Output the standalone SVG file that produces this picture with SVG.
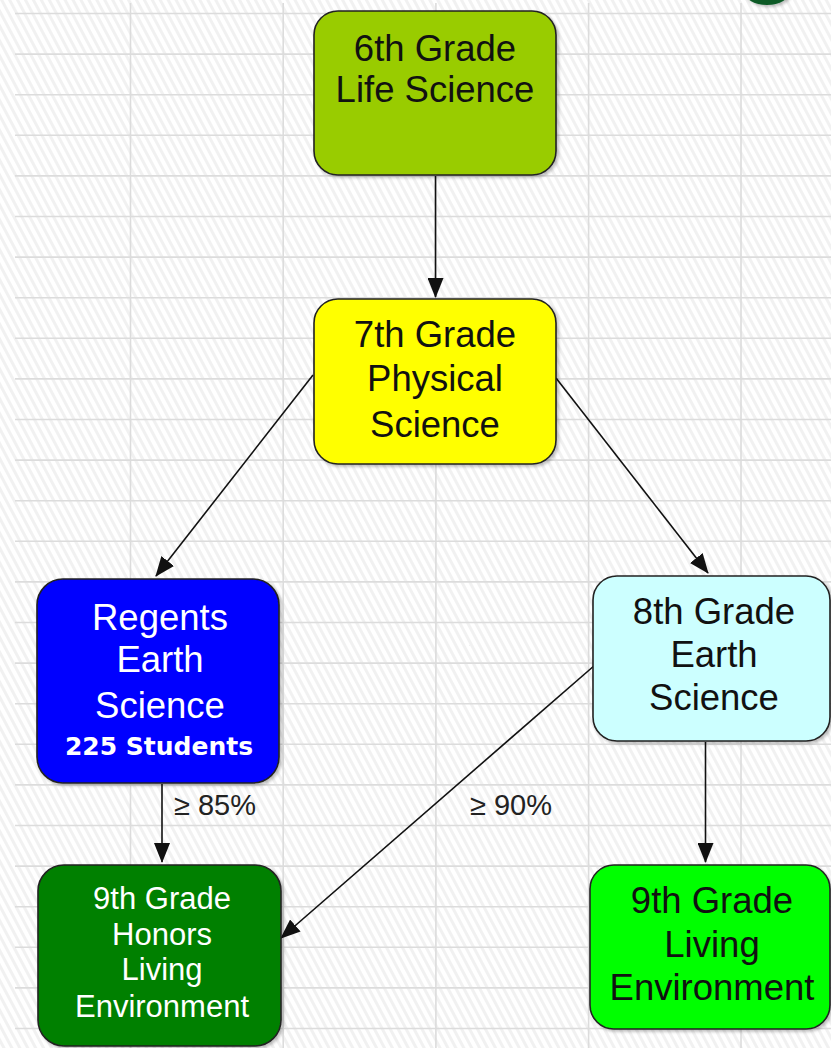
<svg xmlns="http://www.w3.org/2000/svg" width="831" height="1048" viewBox="0 0 831 1048">
  <defs>
    <pattern id="hatch" patternUnits="userSpaceOnUse" width="7" height="10" patternTransform="rotate(-28)">
      <rect x="0" y="0" width="7" height="10" fill="#ffffff"/>
      <rect x="0" y="0" width="3" height="10" fill="#f1f1f1"/>
    </pattern>
    <marker id="arrow" markerUnits="userSpaceOnUse" markerWidth="20" markerHeight="16" viewBox="0 0 20 16" refX="19" refY="8" orient="auto">
      <path d="M0,0 L20,8 L0,16 Z" fill="#111"/>
    </marker>
    <filter id="shadow" x="-10%" y="-10%" width="125%" height="125%">
      <feDropShadow dx="2" dy="2" stdDeviation="1.5" flood-color="#000" flood-opacity="0.25"/>
    </filter>
  </defs>
  <style>
    .grid line { stroke: #dcdcdc; stroke-width: 1.6; }
    .box { stroke: #222; stroke-width: 1.6; filter: url(#shadow); }
    .t { font-family: "Liberation Sans", Arial, sans-serif; font-size: 36.5px; text-anchor: middle; }
    .small { font-size: 31px; }
    .dark { fill: #111; }
    .light { fill: #ffffff; }
    .conn line { stroke: #111; stroke-width: 1.6; marker-end: url(#arrow); }
    .lbl { font-family: "Liberation Sans", Arial, sans-serif; font-size: 29px; fill: #222; }
  </style>

  <rect x="0" y="0" width="831" height="1048" fill="url(#hatch)"/>

  <g class="grid">
    <line x1="15" y1="13.5" x2="831" y2="13.5"/>
    <line x1="15" y1="54.1" x2="831" y2="54.1"/>
    <line x1="15" y1="94.7" x2="831" y2="94.7"/>
    <line x1="15" y1="135.3" x2="831" y2="135.3"/>
    <line x1="15" y1="175.9" x2="831" y2="175.9"/>
    <line x1="15" y1="216.5" x2="831" y2="216.5"/>
    <line x1="15" y1="257.1" x2="831" y2="257.1"/>
    <line x1="15" y1="297.7" x2="831" y2="297.7"/>
    <line x1="15" y1="338.3" x2="831" y2="338.3"/>
    <line x1="15" y1="378.9" x2="831" y2="378.9"/>
    <line x1="15" y1="419.5" x2="831" y2="419.5"/>
    <line x1="15" y1="460.1" x2="831" y2="460.1"/>
    <line x1="15" y1="500.7" x2="831" y2="500.7"/>
    <line x1="15" y1="541.3" x2="831" y2="541.3"/>
    <line x1="15" y1="581.9" x2="831" y2="581.9"/>
    <line x1="15" y1="622.5" x2="831" y2="622.5"/>
    <line x1="15" y1="663.1" x2="831" y2="663.1"/>
    <line x1="15" y1="703.7" x2="831" y2="703.7"/>
    <line x1="15" y1="744.3" x2="831" y2="744.3"/>
    <line x1="15" y1="784.9" x2="831" y2="784.9"/>
    <line x1="15" y1="825.5" x2="831" y2="825.5"/>
    <line x1="15" y1="866.1" x2="831" y2="866.1"/>
    <line x1="15" y1="906.7" x2="831" y2="906.7"/>
    <line x1="15" y1="947.3" x2="831" y2="947.3"/>
    <line x1="15" y1="987.9" x2="831" y2="987.9"/>
    <line x1="15" y1="1028.5" x2="831" y2="1028.5"/>
    <line x1="130.5" y1="3" x2="130.5" y2="1048"/>
    <line x1="283.2" y1="3" x2="283.2" y2="1048"/>
    <line x1="435.9" y1="3" x2="435.9" y2="1048"/>
    <line x1="588.6" y1="3" x2="588.6" y2="1048"/>
    <line x1="741" y1="3" x2="741" y2="1048"/>
  </g>

  <g id="corner-ornament">
    <ellipse cx="767" cy="-9" rx="23" ry="14" fill="#0b5a28" filter="url(#shadow)"/>
  </g>

  <g class="conn" id="connectors">
    <line x1="435.5" y1="176" x2="435.5" y2="297"/>
    <line x1="313" y1="375" x2="156" y2="576"/>
    <line x1="556" y1="378" x2="708" y2="573"/>
    <line x1="162" y1="784" x2="162" y2="862"/>
    <line x1="595" y1="665" x2="281" y2="938"/>
    <line x1="705.5" y1="742" x2="705.5" y2="862"/>
  </g>

  <g id="label-85">
    <text class="lbl" x="174" y="815">≥ 85%</text>
  </g>
  <g id="label-90">
    <text class="lbl" x="470" y="815">≥ 90%</text>
  </g>

  <g id="node-6th">
    <rect class="box" x="314" y="11" width="242" height="164" rx="24" fill="#99cc00"/>
    <text class="t dark" x="435" y="61">6th Grade</text>
    <text class="t dark" x="435" y="102">Life Science</text>
  </g>

  <g id="node-7th">
    <rect class="box" x="314" y="299" width="242" height="165" rx="24" fill="#ffff00"/>
    <text class="t dark" x="435" y="347">7th Grade</text>
    <text class="t dark" x="435" y="391">Physical</text>
    <text class="t dark" x="435" y="437">Science</text>
  </g>

  <g id="node-regents">
    <rect class="box" x="37" y="579" width="242" height="204" rx="26" fill="#0000ff"/>
    <text class="t light" x="160" y="630">Regents</text>
    <text class="t light" x="160" y="672">Earth</text>
    <text class="t light" x="160" y="718">Science</text>
    <text class="light" x="159" y="755" text-anchor="middle" font-family="DejaVu Sans, Verdana, sans-serif" font-weight="bold" font-size="25">225 Students</text>
  </g>

  <g id="node-8th">
    <rect class="box" x="593" y="576" width="237" height="165" rx="24" fill="#ccffff"/>
    <text class="t dark" x="714" y="624">8th Grade</text>
    <text class="t dark" x="714" y="667">Earth</text>
    <text class="t dark" x="714" y="710">Science</text>
  </g>

  <g id="node-honors">
    <rect class="box" x="38" y="865" width="243" height="181" rx="26" fill="#008000"/>
    <text class="t small light" x="162" y="909">9th Grade</text>
    <text class="t small light" x="162" y="945">Honors</text>
    <text class="t small light" x="162" y="980">Living</text>
    <text class="t small light" x="162" y="1017">Environment</text>
  </g>

  <g id="node-living">
    <rect class="box" x="590" y="865" width="240" height="164" rx="24" fill="#00ff00"/>
    <text class="t dark" x="712" y="913">9th Grade</text>
    <text class="t dark" x="712" y="957">Living</text>
    <text class="t dark" x="712" y="1000">Environment</text>
  </g>
</svg>
